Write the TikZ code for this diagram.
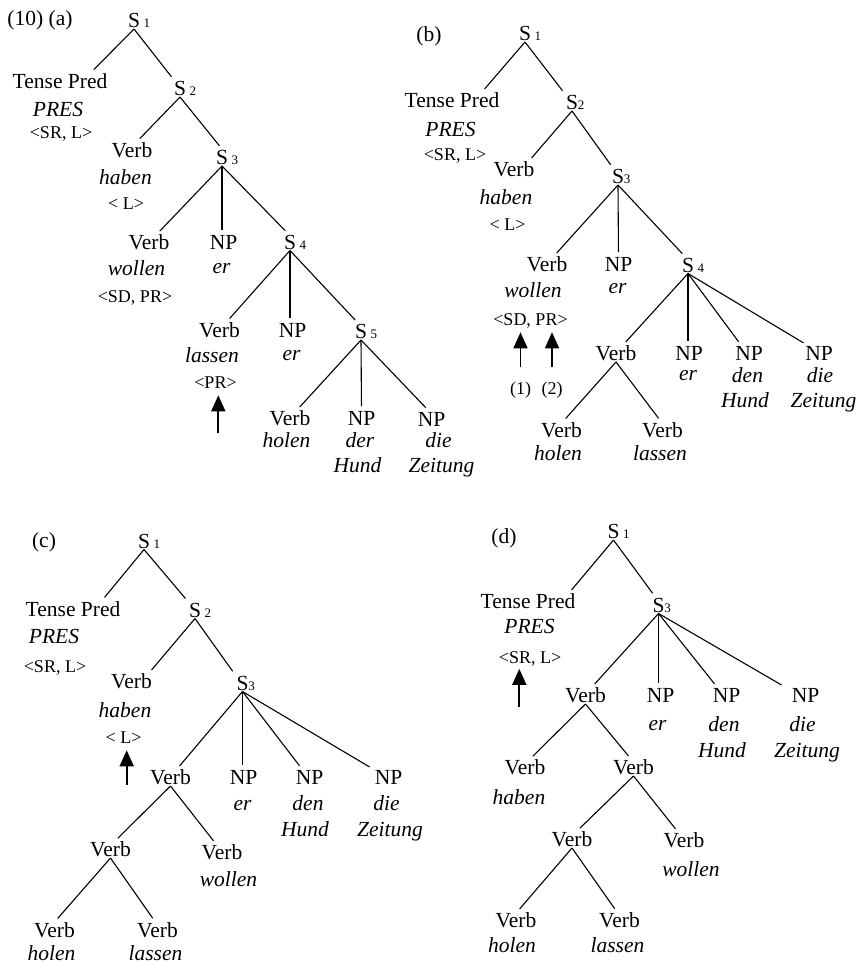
\documentclass[tikz,border=0pt]{standalone}
\usepackage{fontspec}
\setmainfont{Liberation Serif}
\usetikzlibrary{
arrows.meta,
}
\newcommand\mainsz{\fontsize{21.5}{26}\selectfont}
\newcommand\featsz{\fontsize{18}{22}\selectfont}
\newcommand\subsz{\fontsize{13}{15}\selectfont}
\newcommand\Scat[2][\,]{S\rlap{#1{\subsz #2}}}
\tikzset{
every node/.style={align=center, font=\mainsz},
lbl/.style={inner sep=1pt, text height=14.6pt, text depth=0pt},
word/.style={lbl, font=\mainsz\itshape},
feat/.style={lbl, font=\featsz, text height=12.2pt},
branch/.style={line width=1.1pt, shorten >=4pt},
raise/.style={line width=1.7pt, -{Triangle[width=14pt,length=16pt]}, shorten >=6pt},
}

\begin{document}
\begin{tikzpicture}[x=1pt, y=-1pt]
    \useasboundingbox (0,0) rectangle (858,964);

    % (a)
    \node [lbl] (a0) at (40,18) {(10) (a)};
    \node [lbl] (a1) at (134,20.5) {\Scat{1}};
    \node [lbl] (atp) at (60,81) {Tense Pred};
    \node [word] (atpw) at (58,109.5) {PRES};
    \node [feat] (atpf) at (61,132) {<SR, L>};
    \node [lbl] (a2) at (180,88.5) {\Scat{2}};
    \node [lbl] (ahab) at (132,150) {Verb};
    \node [word] (ahabw) at (125.5,177) {haben};
    \node [feat] (ahabf) at (126,203.5) {< L>};
    \node [lbl] (a3) at (222,157.5) {\Scat{3}};
    \node [lbl] (awol) at (149,242.5) {Verb};
    \node [word] (awolw) at (136.5,268.5) {wollen};
    \node [feat] (awolf) at (135,296) {<SD, PR>};
    \node [lbl] (anp) at (223.5,242.5) {NP};
    \node [word] (anpw) at (221.5,265.7) {er};
    \node [lbl] (a4) at (290,242) {\Scat{4}};
    \node [lbl] (alas) at (219.5,330) {Verb};
    \node [word] (alasw) at (212,355) {lassen};
    \node [feat] (alasf) at (215.5,382) {<PR>};
    \node [lbl] (anp2) at (292.5,330) {NP};
    \node [word] (anp2w) at (291.5,353.4) {er};
    \node [lbl] (a5) at (361,331.5) {\Scat{5}};
    \node [lbl] (ahol) at (290,418.5) {Verb};
    \node [word] (aholw) at (286.5,440) {holen};
    \node [lbl] (anp3) at (361.5,418.5) {NP};
    \node [word] (anp3w) at (360,440) {der};
    \node [word] (anp3x) at (357.5,465) {Hund};
    \node [lbl] (anp4) at (431.5,419) {NP};
    \node [word] (anp4w) at (438.5,440) {die};
    \node [word] (anp4x) at (441.5,465) {Zeitung};
    \coordinate (aup) at (218.3,433.3);

    \foreach \p/\c/\d in {a1/atp/31, a1/a2/-6, a2/ahab/5, a2/a3/0, a3/awol/8, a3/anp/-1.5,
        a3/a4/-2, a4/alas/7.5, a4/anp2/-2.5, a4/a5/-3, a5/ahol/7, a5/anp3/0, a5/anp4/-3}
        \draw [branch] (\p.south) -- ([xshift=\d]\c.north);
    \draw [raise] (aup) -- (aup |- alasf.south);

    % (b)
    \node [lbl] (b0) at (429,34) {(b)};
    \node [lbl] (b1) at (525,33.5) {\Scat{1}};
    \node [lbl] (btp) at (452,100.5) {Tense Pred};
    \node [word] (btpw) at (450.5,129) {PRES};
    \node [feat] (btpf) at (455,154) {<SR, L>};
    \node [lbl] (b2) at (572,102.5) {\Scat[]{2}};
    \node [lbl] (bhab) at (514,169.5) {Verb};
    \node [word] (bhabw) at (506,197) {haben};
    \node [feat] (bhabf) at (507.5,224) {< L>};
    \node [lbl] (b3) at (618,176.5) {\Scat[]{3}};
    \node [lbl] (bwol) at (547,264.5) {Verb};
    \node [word] (bwolw) at (533,290) {wollen};
    \node [feat] (bwolf) at (530.5,319) {<SD, PR>};
    \node [feat] (bone) at (520.5,388.5) {(1)};
    \node [feat] (btwo) at (552,388.5) {(2)};
    \node [lbl] (bnp) at (618.5,264.5) {NP};
    \node [word] (bnpw) at (617.5,286) {er};
    \node [lbl] (b4) at (688,265) {\Scat{4}};
    \node [lbl] (bvc) at (616,353.5) {Verb};
    \node [lbl] (bnp2) at (689,353.5) {NP};
    \node [word] (bnp2w) at (688,373) {er};
    \node [lbl] (bnp3) at (749,353.5) {NP};
    \node [word] (bnp3w) at (747.5,375) {den};
    \node [word] (bnp3x) at (745,400) {Hund};
    \node [lbl] (bnp4) at (819,353.5) {NP};
    \node [word] (bnp4w) at (820,375) {die};
    \node [word] (bnp4x) at (823.5,400) {Zeitung};
    \node [lbl] (bhol) at (561.5,430) {Verb};
    \node [word] (bholw) at (558,453.5) {holen};
    \node [lbl] (blas) at (662.5,430) {Verb};
    \node [word] (blasw) at (660,453.5) {lassen};

    \foreach \p/\c/\d in {b1/btp/30, b1/b2/-7, b2/bhab/15, b2/b3/-5, b3/bwol/7, b3/bnp/0,
        b3/b4/-3, b4/bvc/7, b4/bnp2/-1, b4/bnp3/-8, b4/bnp4/-12, bvc/bhol/1.5, bvc/blas/-1.5}
        \draw [branch] (\p.south) -- ([xshift=\d]\c.north);
    \foreach \n in {bone, btwo}
        \draw [raise, shorten <=14pt] (\n.north) -- (\n.north |- bwolf.south);

    % (c)
    \node [lbl] (c0) at (44,540) {(c)};
    \node [lbl] (c1) at (144,541) {\Scat{1}};
    \node [lbl] (ctp) at (73,609) {Tense Pred};
    \node [word] (ctpw) at (54,636.5) {PRES};
    \node [feat] (ctpf) at (55,666) {<SR, L>};
    \node [lbl] (c2) at (195,610) {\Scat{2}};
    \node [lbl] (chab) at (131.5,681.5) {Verb};
    \node [word] (chabw) at (125,710) {haben};
    \node [feat] (chabf) at (123.5,737) {< L>};
    \node [lbl] (c3) at (242.5,683) {\Scat[]{3}};
    \node [lbl] (cvc) at (170.5,777.5) {Verb};
    \node [lbl] (cnp) at (243.5,777.5) {NP};
    \node [word] (cnpw) at (242.5,802.7) {er};
    \node [lbl] (cnp2) at (309.5,777.5) {NP};
    \node [word] (cnp2w) at (308,803.5) {den};
    \node [word] (cnp2x) at (305,829.5) {Hund};
    \node [lbl] (cnp3) at (388.5,777.5) {NP};
    \node [word] (cnp3w) at (386.5,803.5) {die};
    \node [word] (cnp3x) at (390,829.5) {Zeitung};
    \node [lbl] (cvb) at (110.5,849.5) {Verb};
    \node [lbl] (cwol) at (222,852.5) {Verb};
    \node [word] (cwolw) at (228.5,879.5) {wollen};
    \node [lbl] (chol) at (54.5,930) {Verb};
    \node [word] (cholw) at (51.5,953.5) {holen};
    \node [lbl] (clas) at (157.5,930) {Verb};
    \node [word] (clasw) at (155.5,953.5) {lassen};
    \coordinate (cup) at (126.7,785);

    \foreach \p/\c/\d in {c1/ctp/29, c1/c2/-7, c2/chab/17.5, c2/c3/-7.5, c3/cvc/6.5, c3/cnp/-1,
        c3/cnp2/-7.5, c3/cnp3/-15.5, cvc/cvb/4.5, cvc/cwol/-6, cvb/chol/0.5, cvb/clas/-2.5}
        \draw [branch] (\p.south) -- ([xshift=\d]\c.north);
    \draw [raise] (cup) -- (cup |- chabf.south);

    % (d)
    \node [lbl] (d0) at (504,536.5) {(d)};
    \node [lbl] (d1) at (613.5,531.5) {\Scat{1}};
    \node [lbl] (dtp) at (528,601.5) {Tense Pred};
    \node [word] (dtpw) at (529.5,626) {PRES};
    \node [feat] (dtpf) at (530,657.5) {<SR, L>};
    \node [lbl] (d3) at (658.5,605) {\Scat[]{3}};
    \node [lbl] (dvc) at (585.5,695.5) {Verb};
    \node [lbl] (dnp) at (660.5,695.5) {NP};
    \node [word] (dnpw) at (657.5,722.7) {er};
    \node [lbl] (dnp2) at (726.5,695.5) {NP};
    \node [word] (dnp2w) at (724,724) {den};
    \node [word] (dnp2x) at (722,750) {Hund};
    \node [lbl] (dnp3) at (805.5,695.5) {NP};
    \node [word] (dnp3w) at (802.5,724) {die};
    \node [word] (dnp3x) at (807,750) {Zeitung};
    \node [lbl] (dhab) at (525,767.5) {Verb};
    \node [word] (dhabw) at (519,797.5) {haben};
    \node [lbl] (dvb) at (633.5,767.5) {Verb};
    \node [lbl] (dvd) at (572,839.5) {Verb};
    \node [lbl] (dwol) at (684,840.5) {Verb};
    \node [word] (dwolw) at (691,869.5) {wollen};
    \node [lbl] (dhol) at (516,920.5) {Verb};
    \node [word] (dholw) at (512,945.5) {holen};
    \node [lbl] (dlas) at (619.5,920.5) {Verb};
    \node [word] (dlasw) at (617.5,945.5) {lassen};
    \coordinate (dup) at (519.3,706.7);

    \foreach \p/\c/\d in {d1/dtp/41, d1/d3/-3.5, d3/dvc/6.5, d3/dnp/-2, d3/dnp2/-9.5, d3/dnp3/-20.5,
        dvc/dhab/5, dvc/dvb/-2.5, dvb/dvd/5, dvb/dwol/-6, dvd/dhol/1, dvd/dlas/-2.5}
        \draw [branch] (\p.south) -- ([xshift=\d]\c.north);
    \draw [raise, shorten >=4pt] (dup) -- (dup |- dtpf.south);
\end{tikzpicture}
\end{document}
